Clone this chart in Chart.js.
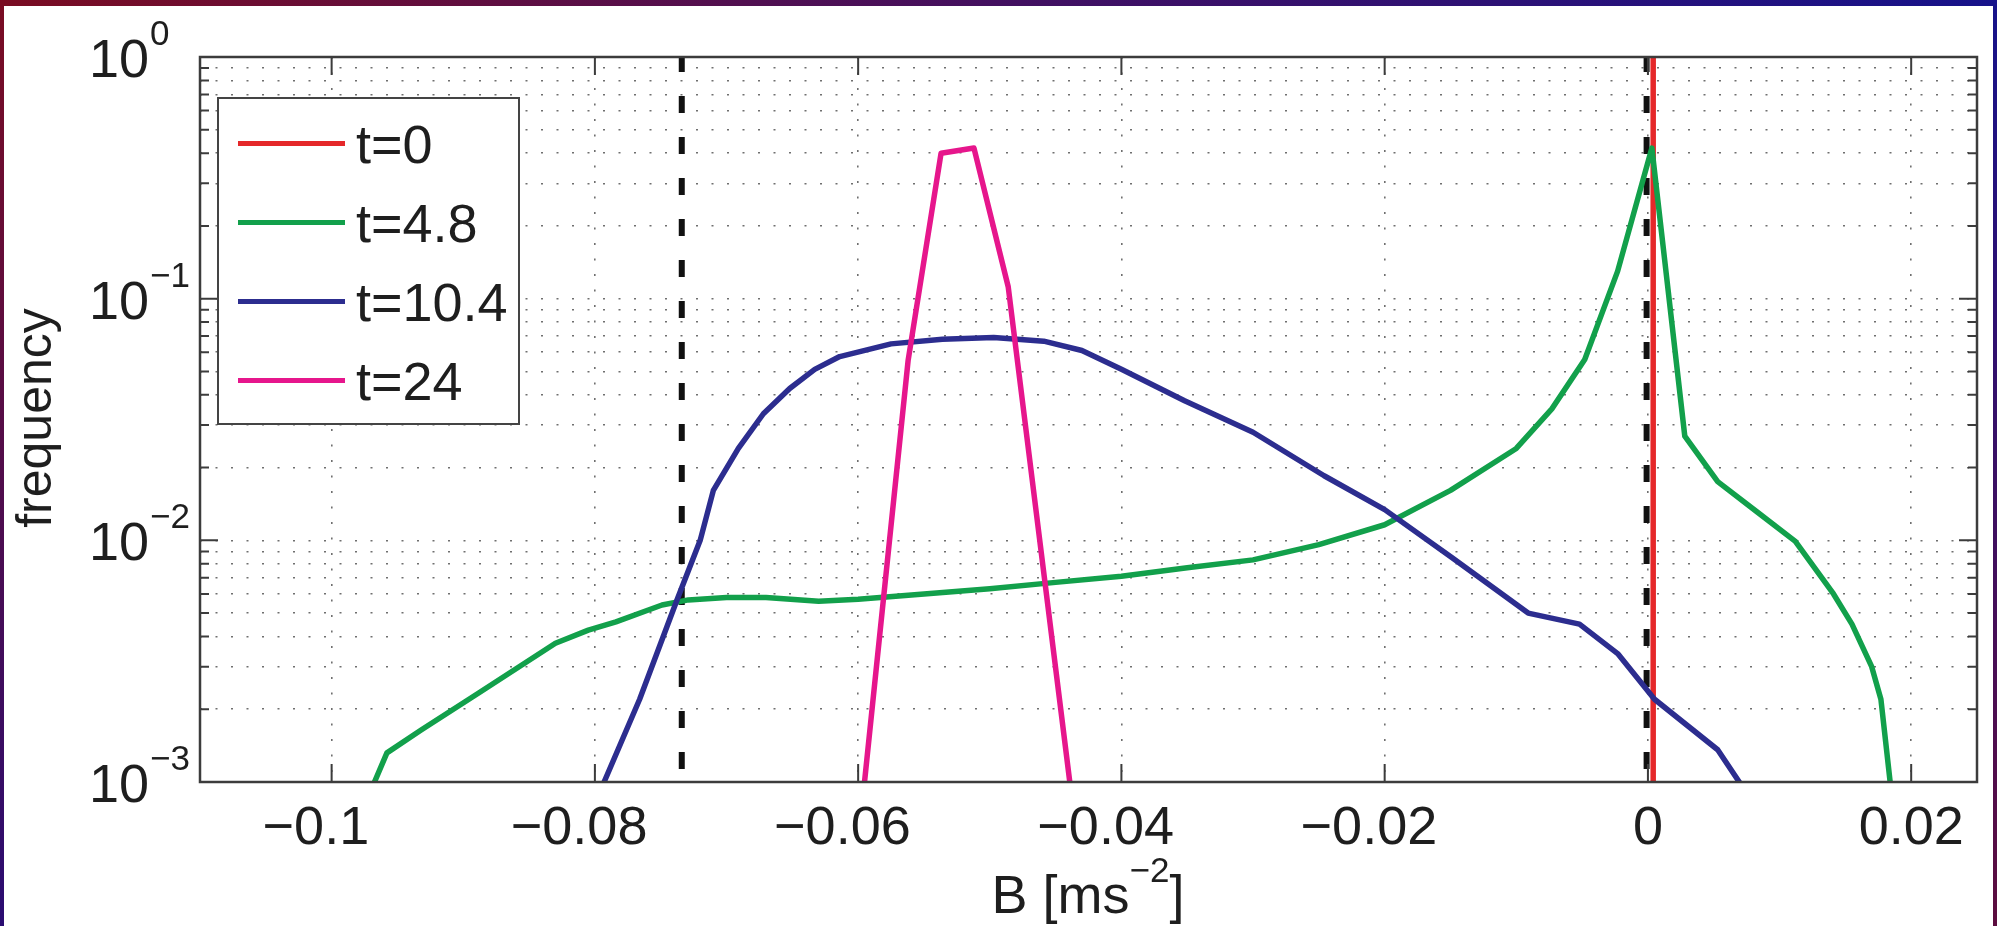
<!DOCTYPE html>
<html>
<head>
<title>B distribution</title>
<script src="https://cdn.jsdelivr.net/npm/chart.js"></script>
<style>
    body {
        margin: 0;
        background: #fff;
        font-family: 'Liberation Sans', Arial, sans-serif;
        color: #1e1e1e;
    }
    .page {
        position: relative;
        width: 1997px;
        height: 926px;
        overflow: hidden;
        background: #fff;
    }
    .chart-box {
        position: absolute;
        left: 0;
        top: 0;
        width: 1997px;
        height: 926px;
    }
    .frame { position: absolute; z-index: 5; }
    .frame-top { left: 0; top: 0; width: 1997px; height: 6px; background: linear-gradient(to right, #7a0c22, #431060 50%, #16128a); }
    .frame-left { left: 0; top: 0; width: 4px; height: 926px; background: linear-gradient(to bottom, #7a0c22, #2a0c72); }
    .frame-right { right: 0; top: 0; width: 4px; height: 926px; background: linear-gradient(to bottom, #16128a, #5c0c3e); }
    .legend {
        position: absolute;
        left: 217px;
        top: 97px;
        width: 303px;
        height: 328px;
        box-sizing: border-box;
        border: 2px solid #444;
        background: #fff;
    }
    .legend .swatch { position: absolute; left: 19px; width: 107px; height: 5px; }
    .legend .lbl { position: absolute; left: 137px; font-size: 54px; line-height: 54px; white-space: nowrap; }
    .axis-title { position: absolute; font-size: 54px; line-height: 54px; white-space: nowrap; text-align: center; }
    .axis-title .sup { position: relative; top: -31px; font-size: 35px; }
    #yTitle { left: -116px; top: 391px; width: 300px; transform: rotate(-90deg); font-size: 50px; }
    #xTitle { left: 888px; top: 867px; width: 400px; }
</style>
</head>
<body>
<div class="page">
    <div class="chart-box"><canvas id="freqChart"></canvas></div>
    <div class="frame frame-top"></div>
    <div class="frame frame-left"></div>
    <div class="frame frame-right"></div>
    <div class="legend" id="legend"></div>
    <div class="axis-title" id="yTitle">frequency</div>
    <div class="axis-title" id="xTitle">B [ms<span class="sup">&minus;2</span>]</div>
</div>

<script>
// histogram curves, B in m/s^2, frequency on log axis
const t0B = [0.0004, 0.0004];
const t0F = [1e-6, 1];

const t48B = [-0.0975, -0.0958, -0.0932, -0.0888, -0.0830, -0.0805, -0.0784, -0.0749, -0.0729, -0.0700,
    -0.0670, -0.0630, -0.0600, -0.0550, -0.0500, -0.0450, -0.0400, -0.0350, -0.0300, -0.0250,
    -0.0200, -0.0150, -0.0100, -0.0073, -0.0048, -0.0023, 0.0003, 0.0028, 0.0053, 0.0083,
    0.0112, 0.0141, 0.0155, 0.0170, 0.0177, 0.0186];
const t48F = [0.0008, 0.00132, 0.00164, 0.00234, 0.00375, 0.00425, 0.00460, 0.0054, 0.00567, 0.0058,
    0.0058, 0.0056, 0.0057, 0.0060, 0.0063, 0.0067, 0.0071, 0.0077, 0.0083, 0.0096,
    0.0116, 0.0161, 0.024, 0.035, 0.056, 0.13, 0.42, 0.027, 0.0175, 0.0131,
    0.0099, 0.0060, 0.0045, 0.0030, 0.0022, 0.0008];

const t104B = [-0.0805, -0.0793, -0.0766, -0.0738, -0.0720, -0.0710, -0.0691, -0.0672, -0.0652, -0.0633,
    -0.0614, -0.0575, -0.0536, -0.0497, -0.0459, -0.0430, -0.0400, -0.0352, -0.0300, -0.0246,
    -0.0200, -0.0149, -0.0091, -0.0052, -0.0023, 0.0005, 0.0053, 0.0075];
const t104F = [0.0008, 0.001, 0.0022, 0.0056, 0.0100, 0.0161, 0.024, 0.0334, 0.0425, 0.051,
    0.0576, 0.065, 0.068, 0.069, 0.0667, 0.061, 0.051, 0.0378, 0.028, 0.0185,
    0.0134, 0.0085, 0.0050, 0.0045, 0.0034, 0.0022, 0.00136, 0.0009];

const t24B = [-0.0597, -0.0562, -0.0537, -0.0512, -0.0486, -0.0437];
const t24F = [0.0008, 0.0557, 0.40, 0.42, 0.112, 0.0008];

// black dashed markers
const markB = [-0.0734, -0.0001];
const markF = [1e-6, 1];

const seriesLabels = ['t=0', 't=4.8', 't=10.4', 't=24'];
const seriesColors = ['#e5282a', '#12a04b', '#2c2d8f', '#e6168c'];

const xTickValues = [-0.1, -0.08, -0.06, -0.04, -0.02, 0, 0.02];
const xTickLabels = ['\u22120.1', '\u22120.08', '\u22120.06', '\u22120.04', '\u22120.02', '0', '0.02'];
const yDecades = [1e-3, 1e-2, 1e-1];
const yMinorSteps = [1, 2, 3, 4, 5, 6, 7, 8, 9];
const yMajorValues = [1, 0.1, 0.01, 0.001];
const yMajorExps = ['0', '\u22121', '\u22122', '\u22123'];

const yTickValues = yDecades.flatMap(d => yMinorSteps.map(s => s * d)).concat([1]);

function pts(bs, fs) {
    return bs.map((b, i) => ({ x: b, y: fs[i] }));
}

const curveSets = [[t0B, t0F], [t48B, t48F], [t104B, t104F], [t24B, t24F]];

const datasets = curveSets.map((c, i) => ({
    label: seriesLabels[i],
    data: pts(c[0], c[1]),
    borderColor: seriesColors[i],
    borderWidth: 5.5,
    order: i == 0 ? 4 : 3 - i
}));
markB.forEach(b => {
    datasets.push({
        label: 'mark',
        data: pts([b, b], markF),
        borderColor: '#111',
        borderWidth: 6,
        borderDash: [17, 24],
        order: 10
    });
});

const FONT = "'Liberation Sans', Arial, sans-serif";
const INK = '#1e1e1e';

// matlab style box, inward ticks and tick labels
const matlabAxes = {
    id: 'matlabAxes',
    afterDraw(chart) {
        const { ctx, chartArea: a } = chart;
        const x = chart.scales.x, y = chart.scales.y;
        ctx.save();
        ctx.strokeStyle = '#3c3c3c';
        ctx.lineWidth = 2;
        ctx.beginPath();
        xTickValues.forEach(v => {
            const px = x.getPixelForValue(v);
            ctx.moveTo(px, a.bottom); ctx.lineTo(px, a.bottom - 18);
            ctx.moveTo(px, a.top); ctx.lineTo(px, a.top + 18);
        });
        yTickValues.forEach(v => {
            const py = y.getPixelForValue(v);
            const len = yMajorValues.includes(v) ? 18 : 9;
            ctx.moveTo(a.left, py); ctx.lineTo(a.left + len, py);
            ctx.moveTo(a.right, py); ctx.lineTo(a.right - len, py);
        });
        ctx.stroke();
        ctx.lineWidth = 2.5;
        ctx.strokeRect(a.left, a.top, a.right - a.left, a.bottom - a.top);

        ctx.fillStyle = INK;
        ctx.textBaseline = 'alphabetic';
        ctx.font = '54px ' + FONT;
        xTickValues.forEach((v, i) => {
            const txt = xTickLabels[i];
            const num = txt.replace('\u2212', '');
            const w = ctx.measureText(txt).width;
            const n = ctx.measureText(num).width;
            ctx.textAlign = 'left';
            ctx.fillText(txt, x.getPixelForValue(v) - n / 2 - (w - n), a.bottom + 62);
        });
        yMajorValues.forEach((v, i) => {
            const py = y.getPixelForValue(v);
            ctx.font = '54px ' + FONT;
            ctx.textAlign = 'right';
            ctx.fillText('10', 149, py + 20);
            ctx.font = '35px ' + FONT;
            ctx.textAlign = 'left';
            ctx.fillText(yMajorExps[i], 150, py + 20 - 32);
        });
        ctx.restore();
    }
};

new Chart(document.getElementById('freqChart'), {
    type: 'line',
    data: { datasets: datasets },
    options: {
        responsive: true,
        maintainAspectRatio: false,
        animation: false,
        layout: { padding: { left: 0, top: 57, right: 20, bottom: 0 } },
        plugins: { legend: { display: false }, tooltip: { enabled: false } },
        elements: {
            point: { radius: 0 },
            line: { tension: 0, borderJoinStyle: 'round', fill: false }
        },
        scales: {
            x: {
                type: 'linear',
                min: -0.11,
                max: 0.025,
                afterBuildTicks: s => { s.ticks = xTickValues.map(v => ({ value: v })); },
                afterFit: s => { s.height = 144; },
                ticks: { display: false },
                grid: { color: '#6f6f6f', lineWidth: 1.6, drawTicks: false },
                border: { display: false, dash: [2, 13.5] }
            },
            y: {
                type: 'logarithmic',
                min: 1e-3,
                max: 1,
                afterBuildTicks: s => { s.ticks = yTickValues.map(v => ({ value: v })); },
                afterFit: s => { s.width = 200; },
                ticks: { display: false, autoSkip: false },
                grid: { color: '#6f6f6f', lineWidth: 1.6, drawTicks: false },
                border: { display: false, dash: [2, 13.5] }
            }
        }
    },
    plugins: [matlabAxes]
});

// legend box, built from the series
const legendEl = document.getElementById('legend');
seriesLabels.forEach((lab, i) => {
    const cy = 44 + i * 79;
    const sw = document.createElement('div');
    sw.className = 'swatch';
    sw.style.top = (cy - 2.5) + 'px';
    sw.style.background = seriesColors[i];
    legendEl.appendChild(sw);
    const tx = document.createElement('div');
    tx.className = 'lbl';
    tx.style.top = (cy - 26) + 'px';
    tx.textContent = lab;
    legendEl.appendChild(tx);
});
</script>
</body>
</html>
